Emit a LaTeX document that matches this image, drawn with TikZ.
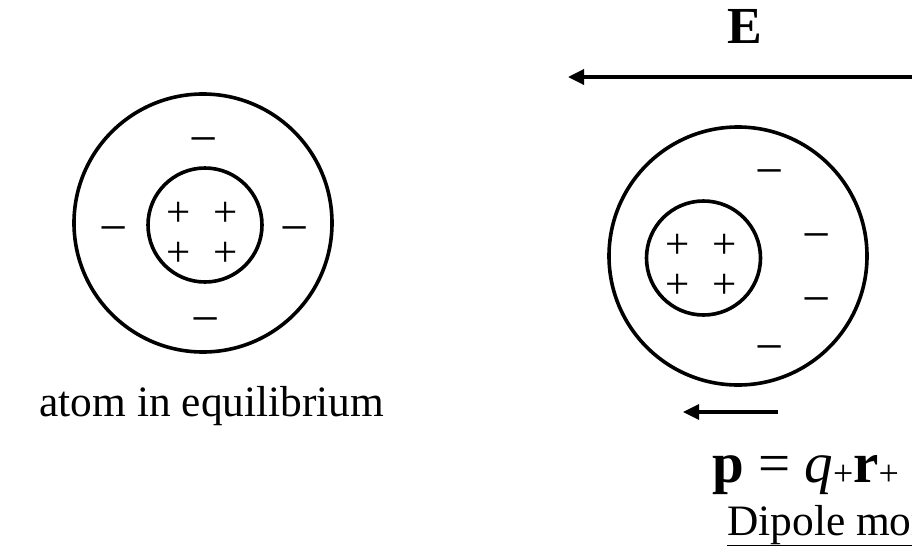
\documentclass[tikz,border=0pt]{standalone}
\usepackage{fontspec}
\setmainfont{Liberation Serif}
\usetikzlibrary{arrows.meta}
\tikzset{
  ring/.style={draw, line width=3.6pt},
  chg/.style={font=\fontsize{43}{43}\selectfont, inner sep=0pt, anchor=base},
  neg/.style={font=\fontsize{50}{50}\selectfont, inner sep=0pt, anchor=base},
  lbl/.style={font=\fontsize{43.4}{46}\selectfont, inner sep=0pt},
  field/.style={line width=3.4pt, -{Triangle[length=16pt,width=15pt]}},
}
\newcommand{\subplus}{\raisebox{-3pt}{\fontsize{36}{36}\selectfont+}}
\begin{document}
\begin{tikzpicture}[x=1pt,y=-1pt]
\useasboundingbox (0,0) rectangle (912,549);
\clip (0,0) rectangle (912,549);
% left atom
\node[ring, circle, minimum size=258pt, inner sep=0pt] (outerL) at (203,223) {};
\node[ring, circle, minimum size=114pt, inner sep=0pt] (innerL) at (205,225) {};
\node[chg] (lp1) at (179,226) {+};
\node[chg] (lp2) at (226,226) {+};
\node[chg] (lp3) at (179,266) {+};
\node[chg] (lp4) at (226,266) {+};
\node[neg] (lm1) at (204,155) {−};
\node[neg] (lm2) at (114,244) {−};
\node[neg] (lm3) at (295,244) {−};
\node[neg] (lm4) at (206,335) {−};
\node[lbl, anchor=base] (eqlbl) at (212,416) {atom in equilibrium};
% field
\coordinate (Eend) at (930,77);
\coordinate (Etip) at (568,77);
\draw[field] (Eend) -- (Etip);
\node[inner sep=0pt, anchor=base, font=\fontsize{52}{52}\selectfont\bfseries] (E) at (745,43) {E};
% right atom
\node[ring, circle, minimum size=258pt, inner sep=0pt] (outerR) at (738,256) {};
\node[ring, circle, minimum size=114pt, inner sep=0pt] (innerR) at (703.5,258) {};
\node[chg] (rp1) at (678,258) {+};
\node[chg] (rp2) at (725,258) {+};
\node[chg] (rp3) at (678,298) {+};
\node[chg] (rp4) at (725,298) {+};
\node[neg] (rm1) at (770,187) {−};
\node[neg] (rm2) at (817,251) {−};
\node[neg] (rm3) at (817,315) {−};
\node[neg] (rm4) at (770,363) {−};
% dipole arrow
\coordinate (ps) at (778,412);
\coordinate (pe) at (683,412);
\draw[line width=3.2pt, -{Triangle[length=16pt,width=15pt]}] (ps) -- (pe);
\node[inner sep=0pt, anchor=base west, font=\fontsize{57}{57}\selectfont] (peq) at (712,482)
  {\textbf{p} = \textit{q}\subplus\textbf{r}\subplus};
\node[lbl, anchor=base west] (dip) at (727,535) {\underline{Dipole moment}};
\end{tikzpicture}
\end{document}
